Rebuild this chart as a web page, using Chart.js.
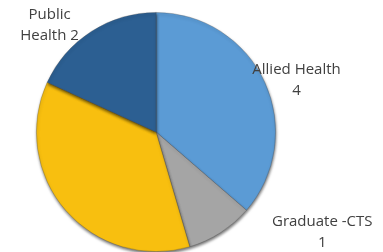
<!DOCTYPE html>
<html><head><meta charset="utf-8">
<script src="https://cdn.jsdelivr.net/npm/chart.js@4/dist/chart.umd.min.js"></script>
<style>html,body{margin:0;padding:0;background:#fff}#wrap{width:383px;height:252px}</style>
</head><body><div id="wrap"><canvas id="c" width="383" height="252"></canvas></div>
<script>
const categories = ['Allied Health', 'Graduate -CTS', '', 'Public Health'];
const values = [4, 1, 4, 2];
const labelLines = [['Allied Health', '4'], ['Graduate -CTS', '1'], [], ['Public', 'Health 2']];
const colors = ['#5B9BD5', '#A5A5A5', '#F8BF0F', '#2C5F92'];
// label block centre offsets, in units of the pie radius
const labelOffsets = [[1.175, -0.43], [1.39, 0.835], [0, 0], [-0.89, -0.895]];

const shadowPlugin = {
  id: 'shadow',
  beforeDatasetDraw(chart) {
    const ctx = chart.ctx; ctx.save();
    ctx.shadowColor = 'rgba(0,0,0,0.55)'; ctx.shadowBlur = 3; ctx.shadowOffsetX = 0.5; ctx.shadowOffsetY = 2;
  },
  afterDatasetDraw(chart) { chart.ctx.restore(); }
};
const labelPlugin = {
  id: 'lbls',
  afterDraw(chart) {
    const ctx = chart.ctx; const arcs = chart.getDatasetMeta(0).data;
    ctx.save(); ctx.font = '15px "Open Sans"'; ctx.fillStyle = '#404040';
    ctx.textAlign = 'center'; ctx.textBaseline = 'middle';
    arcs.forEach((a, i) => {
      const lines = labelLines[i]; if (!lines.length) return;
      const r = a.outerRadius;
      const cx = a.x + labelOffsets[i][0] * r, cy = a.y + labelOffsets[i][1] * r;
      const lh = 21;
      lines.forEach((t, k) => ctx.fillText(t, cx, cy + (k - (lines.length - 1) / 2) * lh));
    });
    ctx.restore();
  }
};
new Chart(document.getElementById('c'), {
  type: 'pie',
  data: { labels: categories, datasets: [{ data: values, backgroundColor: colors, borderColor: 'rgba(70,70,70,0.35)', borderWidth: 0.8 }] },
  options: {
    responsive: false, animation: false,
    layout: { padding: { top: 12, bottom: 0, left: 0, right: 71 } },
    plugins: { legend: { display: false }, tooltip: { enabled: false } }
  },
  plugins: [shadowPlugin, labelPlugin]
});
</script></body></html>
